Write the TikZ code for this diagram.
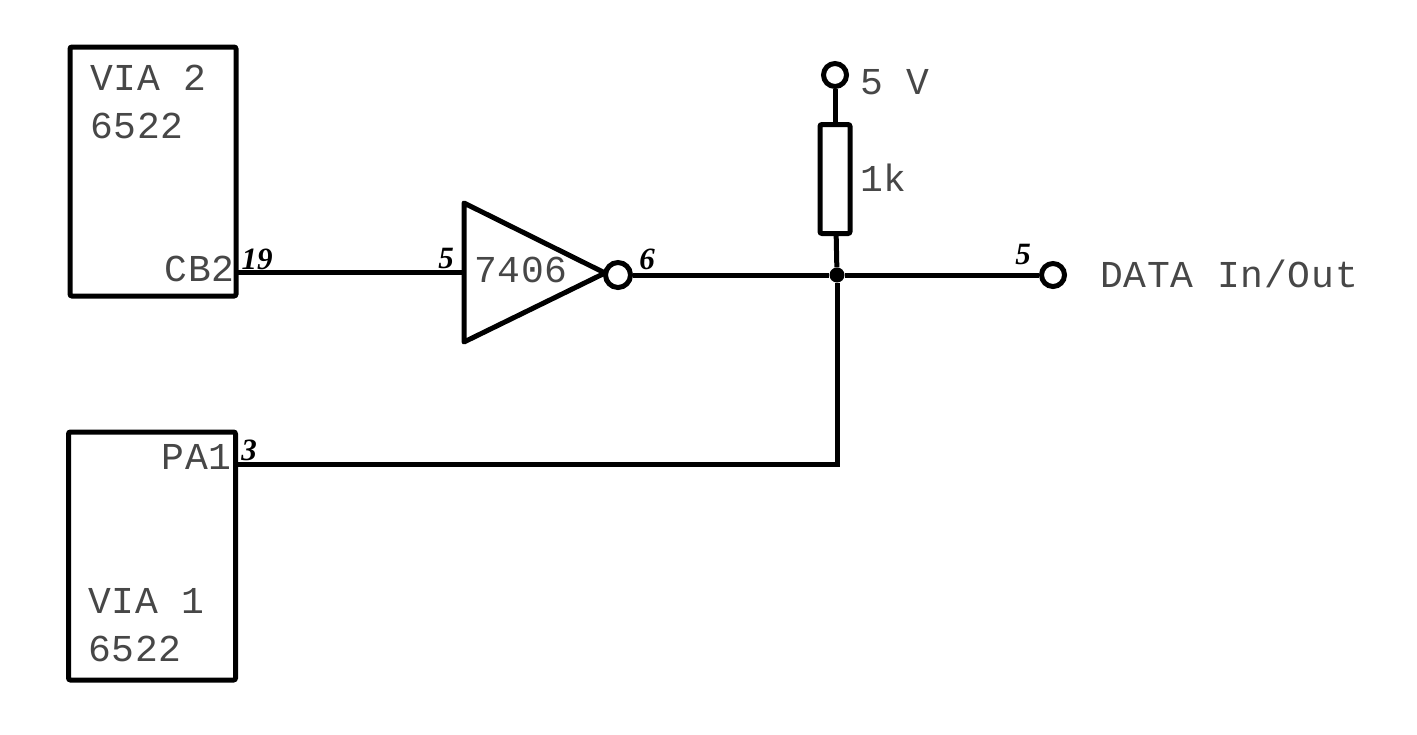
\documentclass[tikz,border=0pt]{standalone}
\usepackage{fontspec}
\setmainfont{Liberation Mono}
\newfontfamily\pinfont{Liberation Serif}
\begin{document}
\begin{tikzpicture}[x=1pt,y=-1pt,
  wire/.style={line width=5pt,black},
  box/.style={draw=black,line width=5pt,fill=white,inner sep=0pt,rounded corners=2pt},
  lbl/.style={font=\fontsize{38}{40}\selectfont\addfontfeature{LetterSpace=2},text=black!72,inner sep=0pt},
  pin/.style={font=\pinfont\fontsize{31}{31}\selectfont\bfseries\itshape,inner sep=0pt},
  term/.style={circle,draw=black,line width=5pt,fill=white,minimum size=23pt,inner sep=0pt},
  jun/.style={circle,fill=black,minimum size=15pt,inner sep=0pt}]
\useasboundingbox (0,0) rectangle (1417,734);
\fill[white] (0,0) rectangle (1417,734);
\node[box,minimum width=166pt,minimum height=249pt] (via2) at (153,171.5) {};
\node[box,minimum width=167pt,minimum height=248pt] (via1) at (152,556) {};
\node[lbl,anchor=west] (t1) at (90,78) {VIA 2};
\node[lbl,anchor=west] (t2) at (90,126) {6522};
\node[lbl,anchor=east] (cb) at (235,269) {CB2};
\node[lbl,anchor=east] (pa) at (232,457) {PA1};
\node[lbl,anchor=west] (t3) at (88,601) {VIA 1};
\node[lbl,anchor=west] (t4) at (88,649) {6522};
\coordinate (g1) at (464,203);
\coordinate (g2) at (464,342);
\coordinate (g3) at (605,273);
\draw[line width=5pt,line join=round] (g1) -- (g3) -- (g2) -- cycle;
\node[term,minimum size=25pt] (inv) at (618,275) {};
\node[jun] (j) at (837,275) {};
\node[term] (v5) at (835,75) {};
\node[term] (out) at (1053,275) {};
\node[draw=black,line width=5pt,rounded corners=2pt,minimum width=30pt,minimum height=109pt,inner sep=0pt] (r) at (835,179) {};
\coordinate (cbp) at (237,272);
\coordinate (in) at (464,272);
\coordinate (pap) at (237,464);
\coordinate (cor) at (837,464);
\draw[wire] (cbp) -- (in);
\draw[wire] (inv) -- (j) -- (out);
\draw[wire] (v5) -- (r);
\draw[wire] (r) -- (j);
\draw[wire] (pap) -- (cor) -- (j);
\node[lbl] (tic) at (521,270) {7406};
\node[lbl,anchor=west] (tv) at (860,82) {5 V};
\node[lbl,anchor=west] (tk) at (860,178) {1k};
\node[lbl,anchor=west] (td) at (1100,274) {DATA In/Out};
\node[pin] (p19) at (257,259) {19};
\node[pin] (p5a) at (446,258) {5};
\node[pin] (p6) at (647,259) {6};
\node[pin] (p5b) at (1023,254) {5};
\node[pin] (p3) at (249,450) {3};
\end{tikzpicture}
\end{document}
